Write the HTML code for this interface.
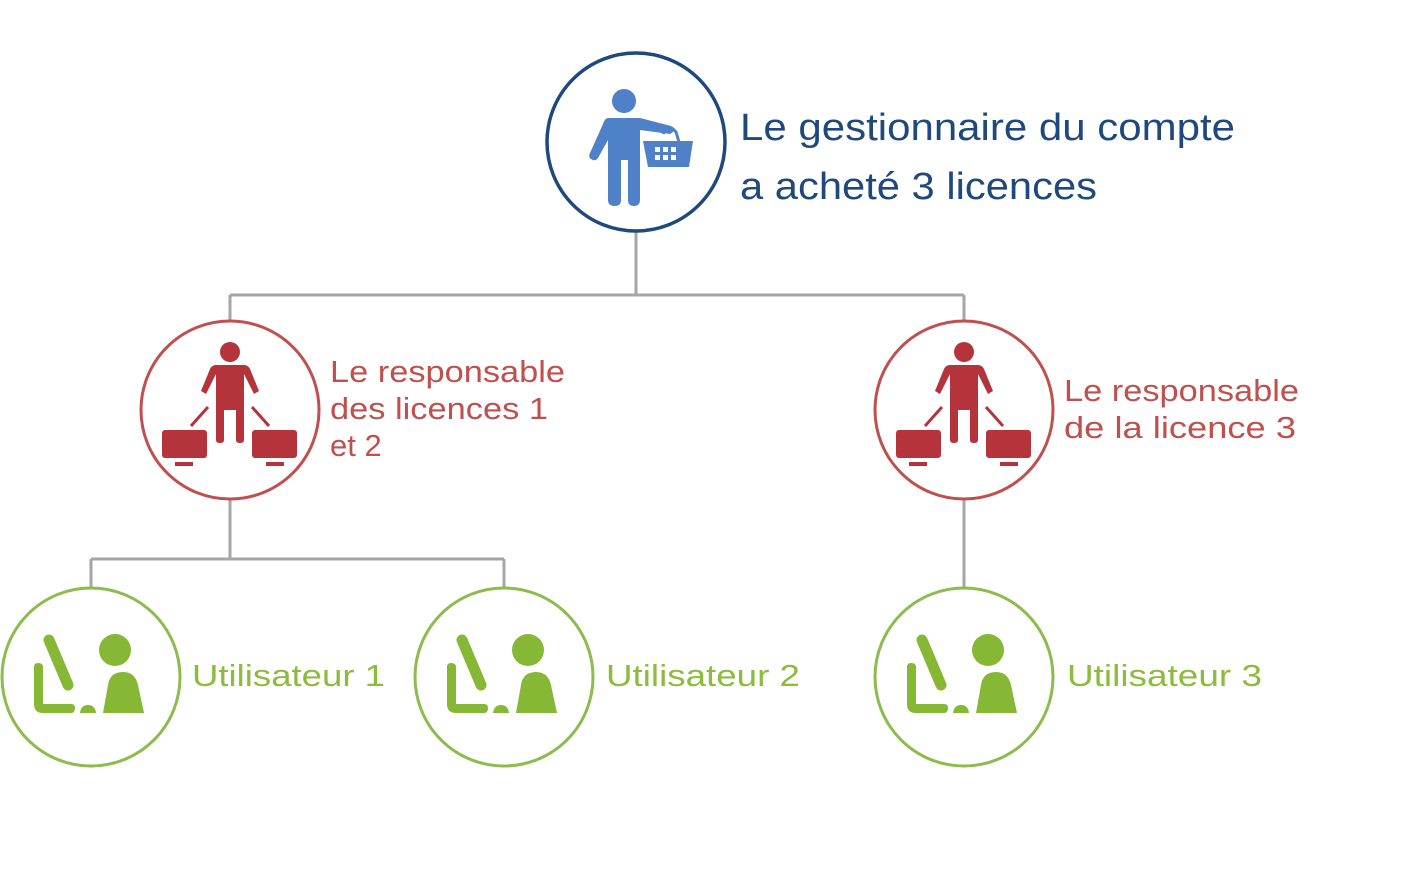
<!DOCTYPE html>
<html><head><meta charset="utf-8"><style>html,body{margin:0;padding:0;background:#fff}svg{display:block}</style></head>
<body>
<svg width="1426" height="885" viewBox="0 0 1426 885" xmlns="http://www.w3.org/2000/svg" font-family="'Liberation Sans', 'DejaVu Sans', sans-serif">
<defs>
<g id="red">
  <circle cx="0" cy="-58" r="10" fill="#b5333b"/>
  <path d="M-14,-45 L14,-45 Q18,-45 20,-41 L29,-19 L24,-16 L14,-36 L14,30 Q14,33 10,33 Q6,33 6,30 L6,0 L-6,0 L-6,30 Q-6,33 -10,33 Q-14,33 -14,30 L-14,-36 L-24,-16 L-29,-19 L-20,-41 Q-18,-45 -14,-45 Z" fill="#b5333b"/>
  <line x1="-22" y1="-3" x2="-39" y2="16" stroke="#b5333b" stroke-width="3"/>
  <line x1="22" y1="-3" x2="39" y2="16" stroke="#b5333b" stroke-width="3"/>
  <rect x="-68" y="20" width="45" height="28" rx="3" fill="#b5333b"/>
  <rect x="-55" y="52" width="18" height="4" fill="#b5333b"/>
  <rect x="22" y="20" width="45" height="28" rx="3" fill="#b5333b"/>
  <rect x="36" y="52" width="18" height="4" fill="#b5333b"/>
</g>
<g id="green" fill="#86b835">
  <path d="M-53,-14 Q-48,-14 -48,-10 L-48,27 L-20,27 Q-16,27 -16,31 Q-16,36 -20,36 L-48,36 Q-57,36 -57,27 L-57,-10 Q-57,-14 -53,-14 Z"/>
  <line x1="-42" y1="-37" x2="-23" y2="8" stroke="#86b835" stroke-width="11" stroke-linecap="round"/>
  <path d="M-11,36 Q-10,28 -3,28 Q4,28 5,36 Z"/>
  <circle cx="24" cy="-27" r="16"/>
  <path d="M12,36 L17,8 Q19,-5 32,-5 Q44,-5 47,8 L53,36 Z"/>
</g>
</defs>
<g stroke="#a6a6a6" stroke-width="3" fill="none">
  <path d="M636,232 V295 M230,295 H964 M230,295 V321 M964,295 V321"/>
  <path d="M230,499 V559 M91,559 H504 M91,559 V588 M504,559 V588 M964,499 V588"/>
</g>
<circle cx="636" cy="142" r="89" fill="#fff" stroke="#1f497d" stroke-width="3.5"/>
<g fill="#4f81c9">
  <circle cx="624" cy="101" r="12"/>
  <path d="M608,118 L640,118 L671,126 Q675,128 673,132 L670,134 L640,130 L640,200 Q640,206 634,206 Q628,206 628,200 L628,160 L621,160 L621,200 Q621,206 615,206 Q608,206 608,200 L608,140 L598,158 Q595,162 591,159 Q588,157 590,153 L603,124 Q605,118 608,118 Z"/>
  <path d="M663,134 Q668,122 676,132 L679,142" fill="none" stroke="#4f81c9" stroke-width="3"/>
  <path d="M643,141 L693,141 L689,167 L648,167 Z"/>
</g>
<g fill="#fff">
  <rect x="655" y="147" width="5" height="5"/><rect x="663" y="147" width="5" height="5"/><rect x="671" y="147" width="5" height="5"/>
  <rect x="655" y="155" width="5" height="5"/><rect x="663" y="155" width="5" height="5"/><rect x="671" y="155" width="5" height="5"/>
</g>
<text x="740" y="140" font-size="38" fill="#1f497d" textLength="495" lengthAdjust="spacingAndGlyphs">Le gestionnaire du compte</text>
<text x="740" y="199" font-size="38" fill="#1f497d" textLength="357" lengthAdjust="spacingAndGlyphs">a acheté 3 licences</text>

<circle cx="230" cy="410" r="89" fill="#fff" stroke="#c0504d" stroke-width="3"/>
<use href="#red" x="230" y="410"/>
<circle cx="964" cy="410" r="89" fill="#fff" stroke="#c0504d" stroke-width="3"/>
<use href="#red" x="964" y="410"/>
<g font-size="31" fill="#c0504d">
  <text x="330" y="382" textLength="235" lengthAdjust="spacingAndGlyphs">Le responsable</text>
  <text x="330" y="419" textLength="218" lengthAdjust="spacingAndGlyphs">des licences 1</text>
  <text x="330" y="456">et 2</text>
  <text x="1064" y="401" textLength="235" lengthAdjust="spacingAndGlyphs">Le responsable</text>
  <text x="1064" y="438" textLength="232" lengthAdjust="spacingAndGlyphs">de la licence 3</text>
</g>

<circle cx="91" cy="677" r="89" fill="#fff" stroke="#8cbb4e" stroke-width="3"/>
<use href="#green" x="91" y="677"/>
<circle cx="504" cy="677" r="89" fill="#fff" stroke="#8cbb4e" stroke-width="3"/>
<use href="#green" x="504" y="677"/>
<circle cx="964" cy="677" r="89" fill="#fff" stroke="#8cbb4e" stroke-width="3"/>
<use href="#green" x="964" y="677"/>
<g font-size="31" fill="#8cbb3e">
  <text x="192" y="686" textLength="193" lengthAdjust="spacingAndGlyphs">Utilisateur 1</text>
  <text x="606" y="686" textLength="194" lengthAdjust="spacingAndGlyphs">Utilisateur 2</text>
  <text x="1067" y="686" textLength="195" lengthAdjust="spacingAndGlyphs">Utilisateur 3</text>
</g>
</svg>
</body></html>
